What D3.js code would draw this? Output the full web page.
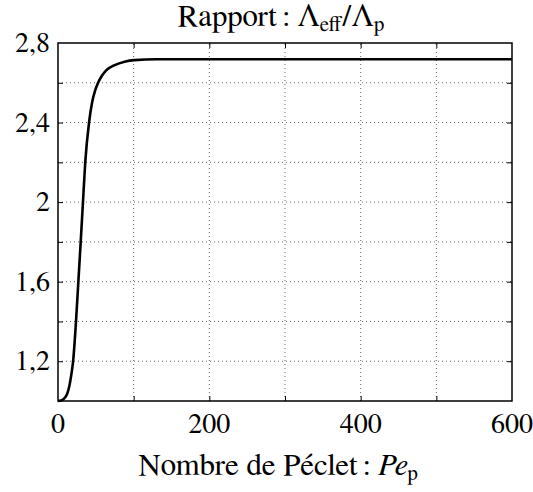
<!DOCTYPE html>
<html><head><meta charset="utf-8">
<script src="https://cdn.jsdelivr.net/npm/d3@7"></script>
</head><body style="margin:0;background:#fff">
<script>
// Data
const peclet = [0, 4, 8, 12, 15, 17.5, 20, 23.8, 26.9, 30, 33, 36, 41, 45, 49, 53, 58, 64, 75, 88, 101, 130, 300, 600];
const ratio  = [1.000, 1.002, 1.012, 1.035, 1.075, 1.13, 1.20, 1.40, 1.60, 1.80, 2.00, 2.20, 2.40, 2.50, 2.56, 2.60, 2.635, 2.664, 2.689, 2.706, 2.714, 2.718, 2.718, 2.718];
const xTickLabels = [0, 200, 400, 600];
const yTickLabels = [1.2, 1.6, 2.0, 2.4, 2.8];
const xGrid = [100, 200, 300, 400, 500];
const yGrid = [1.2, 1.4, 1.6, 1.8, 2.0, 2.2, 2.4, 2.6];

const FONT = "'FreeSerif', 'Liberation Serif', 'DejaVu Serif', serif";
const W = 533, H = 492;
const m = {left: 58, right: 21, top: 43, bottom: 91};
const svg = d3.select("body").append("svg").attr("width", W).attr("height", H).style("display", "block");
const x = d3.scaleLinear().domain([0, 600]).range([m.left, W - m.right]);
const y = d3.scaleLinear().domain([1, 2.8]).range([H - m.bottom, m.top]);
const fmt = v => (Number.isInteger(v) ? String(v) : String(v).replace(".", ","));

// grid
const g = svg.append("g");
g.selectAll(".gx").data(xGrid).join("line")
  .attr("x1", d => x(d)).attr("x2", d => x(d)).attr("y1", y(1)).attr("y2", y(2.8))
  .attr("stroke", "#666").attr("stroke-width", 1).attr("stroke-dasharray", "1,3");
g.selectAll(".gy").data(yGrid).join("line")
  .attr("y1", d => y(d)).attr("y2", d => y(d)).attr("x1", x(0)).attr("x2", x(600))
  .attr("stroke", "#666").attr("stroke-width", 1).attr("stroke-dasharray", "1,3");

// inward ticks via d3 axes
const tl = 5;
const axB = svg.append("g").attr("transform", `translate(0,${y(1)})`)
  .call(d3.axisTop(x).tickValues(xGrid).tickSize(tl).tickFormat(""));
const axT = svg.append("g").attr("transform", `translate(0,${y(2.8)})`)
  .call(d3.axisBottom(x).tickValues(xGrid).tickSize(tl).tickFormat(""));
const axL = svg.append("g").attr("transform", `translate(${x(0)},0)`)
  .call(d3.axisRight(y).tickValues(yGrid).tickSize(tl).tickFormat(""));
const axR = svg.append("g").attr("transform", `translate(${x(600)},0)`)
  .call(d3.axisLeft(y).tickValues(yGrid).tickSize(tl).tickFormat(""));
[axB, axT, axL, axR].forEach(a => { a.select(".domain").remove(); a.selectAll("line").attr("stroke", "#000").attr("stroke-width", 1); });

// tick labels
svg.selectAll(".xl").data(xTickLabels).join("text")
  .attr("x", d => x(d)).attr("y", 433).attr("text-anchor", "middle")
  .style("font-family", FONT).style("font-size", "28px").attr("fill", "#000").text(d => fmt(d));
svg.selectAll(".yl").data(yTickLabels).join("text")
  .attr("x", 50).attr("y", d => y(d) + 9).attr("text-anchor", "end")
  .style("font-family", FONT).style("font-size", "28px").attr("fill", "#000").text(d => fmt(d));

// curve
const line = d3.line().x((d, i) => x(peclet[i])).y(d => y(d)).curve(d3.curveMonotoneX);
svg.append("path").datum(ratio).attr("d", line).attr("fill", "none")
  .attr("stroke", "#000").attr("stroke-width", 2.6).attr("stroke-linejoin", "round");

// frame
svg.append("rect").attr("x", x(0)).attr("y", y(2.8)).attr("width", x(600) - x(0)).attr("height", y(1) - y(2.8))
  .attr("fill", "none").attr("stroke", "#000").attr("stroke-width", 1.5);

// title
const t = svg.append("text").attr("x", 281).attr("y", 26).attr("text-anchor", "middle")
  .style("font-family", FONT).style("font-size", "31px");
t.append("tspan").text("Rapport\u2009: Λ");
t.append("tspan").style("font-size", "21px").attr("dy", 5).text("eff");
t.append("tspan").attr("dy", -5).text("/Λ");
t.append("tspan").style("font-size", "21px").attr("dy", 5).text("p");

// x label
const xl = svg.append("text").attr("x", 278).attr("y", 475).attr("text-anchor", "middle")
  .style("font-family", FONT).style("font-size", "31px");
xl.append("tspan").text("Nombre de Péclet\u2009: ");
xl.append("tspan").style("font-style", "italic").text("Pe");
xl.append("tspan").style("font-size", "21px").attr("dy", 5).text("p");
</script>
</body></html>
